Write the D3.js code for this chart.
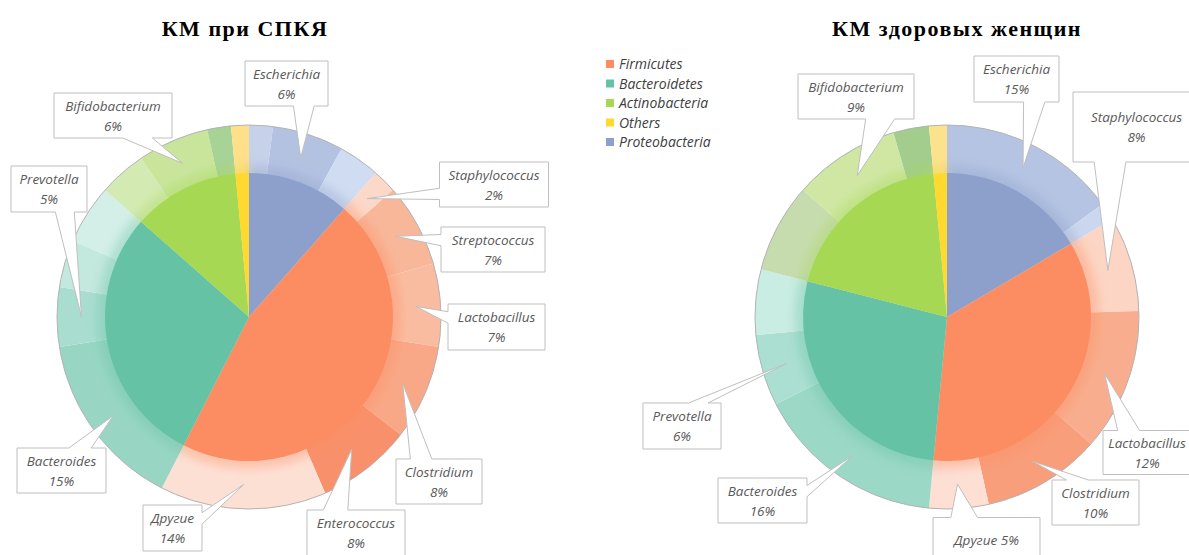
<!DOCTYPE html>
<html>
<head>
<meta charset="utf-8">
<script src="https://cdn.jsdelivr.net/npm/d3@7"></script>
<style>
  body { margin: 0; background: #fff; }
  svg { display: block; }
</style>
</head>
<body>
<svg id="chart" width="1189" height="555"></svg>
<script>
// ---------- data ----------
// phyla of the inner pie, clockwise from 12 o'clock
const phyla = ["Proteobacteria", "Firmicutes", "Bacteroidetes", "Actinobacteria", "Others"];
const legendItems = ["Firmicutes", "Bacteroidetes", "Actinobacteria", "Others", "Proteobacteria"];

// КМ при СПКЯ — phylum shares, %
const pcosTitle = "КМ при СПКЯ";
const pcosPhylaValues = [11.5, 46, 29, 12, 1.5];
// genera of the outer ring, clockwise; empty name = unlabelled remainder
const pcosGenera = [
  { name: "", phylum: "Proteobacteria", value: 2 },
  { name: "Escherichia", phylum: "Proteobacteria", value: 6 },
  { name: "", phylum: "Proteobacteria", value: 3.5 },
  { name: "Staphylococcus", phylum: "Firmicutes", value: 2 },
  { name: "Streptococcus", phylum: "Firmicutes", value: 7 },
  { name: "Lactobacillus", phylum: "Firmicutes", value: 7 },
  { name: "Clostridium", phylum: "Firmicutes", value: 8 },
  { name: "Enterococcus", phylum: "Firmicutes", value: 8 },
  { name: "Другие", phylum: "Firmicutes", value: 14 },
  { name: "Bacteroides", phylum: "Bacteroidetes", value: 15 },
  { name: "Prevotella", phylum: "Bacteroidetes", value: 5 },
  { name: "", phylum: "Bacteroidetes", value: 4 },
  { name: "", phylum: "Bacteroidetes", value: 5 },
  { name: "", phylum: "Actinobacteria", value: 4 },
  { name: "Bifidobacterium", phylum: "Actinobacteria", value: 6 },
  { name: "", phylum: "Actinobacteria", value: 2 },
  { name: "", phylum: "Others", value: 1.5 }
];

// КМ здоровых женщин — phylum shares, %
const healthyTitle = "КМ здоровых женщин";
const healthyPhylaValues = [16.5, 35, 27.5, 19.5, 1.5];
const healthyGenera = [
  { name: "Escherichia", phylum: "Proteobacteria", value: 15 },
  { name: "", phylum: "Proteobacteria", value: 1.5 },
  { name: "Staphylococcus", phylum: "Firmicutes", value: 8 },
  { name: "Lactobacillus", phylum: "Firmicutes", value: 12 },
  { name: "Clostridium", phylum: "Firmicutes", value: 10 },
  { name: "Другие", phylum: "Firmicutes", value: 5 },
  { name: "Bacteroides", phylum: "Bacteroidetes", value: 16 },
  { name: "Prevotella", phylum: "Bacteroidetes", value: 6 },
  { name: "", phylum: "Bacteroidetes", value: 5.5 },
  { name: "", phylum: "Actinobacteria", value: 7.5 },
  { name: "Bifidobacterium", phylum: "Actinobacteria", value: 9 },
  { name: "", phylum: "Actinobacteria", value: 3 },
  { name: "", phylum: "Others", value: 1.5 }
];

// ---------- styles ----------
const phylumColor = d3.scaleOrdinal(phyla, ["#8da0cb", "#fc8d62", "#66c2a5", "#a6d854", "#ffd92f"]);
const pcosOuterColors = [
  "#c6d1ea", "#b4c2e2", "#d0dcf1",
  "#fcd8c8", "#f9b79a", "#fabca0", "#f9a887", "#f8916b", "#fde0d4",
  "#98d6c3", "#a9ddcf", "#c3e8de", "#d4efe7",
  "#d4eab3", "#c9e59c", "#a7d396",
  "#fedf8a"
];
const healthyOuterColors = [
  "#b5c4e2", "#cbd7ef",
  "#fcd5c4", "#f8ae8e", "#f89e7a", "#fddfd4",
  "#9bd8c6", "#abdfd1", "#c9ece3",
  "#c6dcae", "#cfe7a3", "#a2cd8d",
  "#fde28e"
];

// ---------- layout ----------
const R_INNER = 144, R_OUTER = 192;
const charts = [
  {
    title: pcosTitle, titleX: 245, cx: 249, cy: 317,
    phylaValues: pcosPhylaValues, genera: pcosGenera, outerColors: pcosOuterColors,
    // callout boxes: centre x, centre y, width, height
    callouts: {
      "Escherichia": [286.5, 83.5, 83, 45],
      "Bifidobacterium": [113, 115.5, 118, 45],
      "Prevotella": [49, 189, 76, 46],
      "Staphylococcus": [494, 184.5, 109, 45],
      "Streptococcus": [493, 249.5, 104, 45],
      "Lactobacillus": [496.5, 327, 97, 46],
      "Clostridium": [439, 481.5, 86, 45],
      "Enterococcus": [356, 533, 98, 46],
      "Другие": [172.5, 528, 59, 46],
      "Bacteroides": [61.5, 470.5, 89, 45]
    },
    oneLine: []
  },
  {
    title: healthyTitle, titleX: 957, cx: 947, cy: 317,
    phylaValues: healthyPhylaValues, genera: healthyGenera, outerColors: healthyOuterColors,
    callouts: {
      "Bifidobacterium": [856, 96.5, 116, 45],
      "Escherichia": [1016.5, 79, 85, 46],
      "Staphylococcus": [1136.5, 127, 127, 70],
      "Prevotella": [682, 426, 78, 46],
      "Bacteroides": [762.5, 500.5, 89, 45],
      "Другие": [986.5, 540, 107, 45],
      "Clostridium": [1095.5, 502.5, 87, 45],
      "Lactobacillus": [1147, 452.5, 88, 44]
    },
    oneLine: ["Другие"]
  }
];

const svg = d3.select("#chart");
const defs = svg.append("defs");
defs.append("filter").attr("id", "halo")
  .attr("x", "-20%").attr("y", "-20%").attr("width", "140%").attr("height", "140%")
  .attr("color-interpolation-filters", "sRGB")
  .append("feGaussianBlur").attr("stdDeviation", 5);

const pie = d3.pie().sort(null).value(d => d).startAngle(0).endAngle(2 * Math.PI);
const pieGenera = d3.pie().sort(null).value(d => d.value).startAngle(0).endAngle(2 * Math.PI);
const innerArc = d3.arc().innerRadius(0).outerRadius(R_INNER);
const haloArc = d3.arc().innerRadius(0).outerRadius(R_INNER + 8);
const outerArc = d3.arc().innerRadius(R_INNER - 1).outerRadius(R_OUTER);

const labelFont = "'Open Sans', Lato, sans-serif";

// wedge-rectangle callout: box with a pointer whose base sits on the edge facing the tip
function calloutPath(cx, cy, w, h, tx, ty) {
  const x0 = cx - w / 2, y0 = cy - h / 2, x1 = cx + w / 2, y1 = cy + h / 2;
  const dx = tx - cx, dy = ty - cy;
  const dq = dx * h / w;
  let p;
  if (Math.abs(dy) > Math.abs(dq)) {
    const xa = x0 + w * (dx > 0 ? 7 : 2) / 12, xb = x0 + w * (dx > 0 ? 10 : 5) / 12;
    p = dy < 0
      ? [[x0, y0], [xa, y0], [tx, ty], [xb, y0], [x1, y0], [x1, y1], [x0, y1]]
      : [[x0, y0], [x1, y0], [x1, y1], [xb, y1], [tx, ty], [xa, y1], [x0, y1]];
  } else {
    const ya = y0 + h * (dy > 0 ? 7 : 2) / 12, yb = y0 + h * (dy > 0 ? 10 : 5) / 12;
    p = dx < 0
      ? [[x0, y0], [x1, y0], [x1, y1], [x0, y1], [x0, yb], [tx, ty], [x0, ya]]
      : [[x0, y0], [x1, y0], [x1, ya], [tx, ty], [x1, yb], [x1, y1], [x0, y1]];
  }
  return "M" + p.map(q => q.join(",")).join("L") + "Z";
}

charts.forEach(ch => {
  // title
  svg.append("text")
    .attr("x", ch.titleX).attr("y", 36)
    .attr("text-anchor", "middle")
    .style("font-family", "'Liberation Serif', 'Times New Roman', serif")
    .style("font-weight", "bold")
    .style("font-size", "22px")
    .style("letter-spacing", "1.5px")
    .style("fill", "#000")
    .text(ch.title);

  const g = svg.append("g").attr("transform", `translate(${ch.cx},${ch.cy})`);
  const innerData = pie(ch.phylaValues);
  const outerData = pieGenera(ch.genera);

  // outer ring: genera
  g.append("g").selectAll("path").data(outerData).join("path")
    .attr("d", outerArc)
    .attr("fill", (d, i) => ch.outerColors[i]);

  // soft glow of the inner pie spilling onto the ring
  g.append("g").attr("filter", "url(#halo)").attr("opacity", 0.35)
    .selectAll("path").data(innerData).join("path")
    .attr("d", haloArc)
    .attr("fill", (d, i) => phylumColor(phyla[i]));

  // inner pie: phyla
  g.append("g").selectAll("path").data(innerData).join("path")
    .attr("d", innerArc)
    .attr("fill", (d, i) => phylumColor(phyla[i]));

  g.append("circle").attr("r", R_OUTER)
    .attr("fill", "none").attr("stroke", "#b3b3b3").attr("stroke-width", 1);

  // callouts
  const cg = svg.append("g");
  outerData.forEach(d => {
    const name = d.data.name;
    const box = ch.callouts[name];
    if (!name || !box) return;
    const [bx, by, bw, bh] = box;
    const c = outerArc.centroid(d);
    const tx = ch.cx + c[0], ty = ch.cy + c[1];
    cg.append("path")
      .attr("d", calloutPath(bx, by, bw, bh, tx, ty))
      .attr("fill", "#fff")
      .attr("stroke", "#bfbfbf")
      .attr("stroke-width", 1)
      .attr("stroke-linejoin", "miter");
    const t = cg.append("text")
      .attr("text-anchor", "middle")
      .style("font-family", labelFont)
      .style("font-style", "italic")
      .style("font-size", "13.5px")
      .style("fill", "#595959");
    if (ch.oneLine.includes(name)) {
      t.append("tspan").attr("x", bx).attr("y", by + 5).text(`${name} ${d.data.value}%`);
    } else {
      t.append("tspan").attr("x", bx).attr("y", by - 5).text(name);
      t.append("tspan").attr("x", bx).attr("y", by + 15).text(`${d.data.value}%`);
    }
  });
});

// legend
const legend = svg.append("g").attr("transform", "translate(606,64)");
const rowStep = 19.5;
legendItems.forEach((name, i) => {
  const row = legend.append("g").attr("transform", `translate(0,${i * rowStep})`);
  row.append("rect").attr("x", 0).attr("y", -4).attr("width", 8).attr("height", 8)
    .attr("fill", phylumColor(name));
  row.append("text").attr("x", 13).attr("y", 5)
    .style("font-family", labelFont)
    .style("font-style", "italic")
    .style("font-size", "14px")
    .style("fill", "#404040")
    .text(name);
});
</script>
</body>
</html>
